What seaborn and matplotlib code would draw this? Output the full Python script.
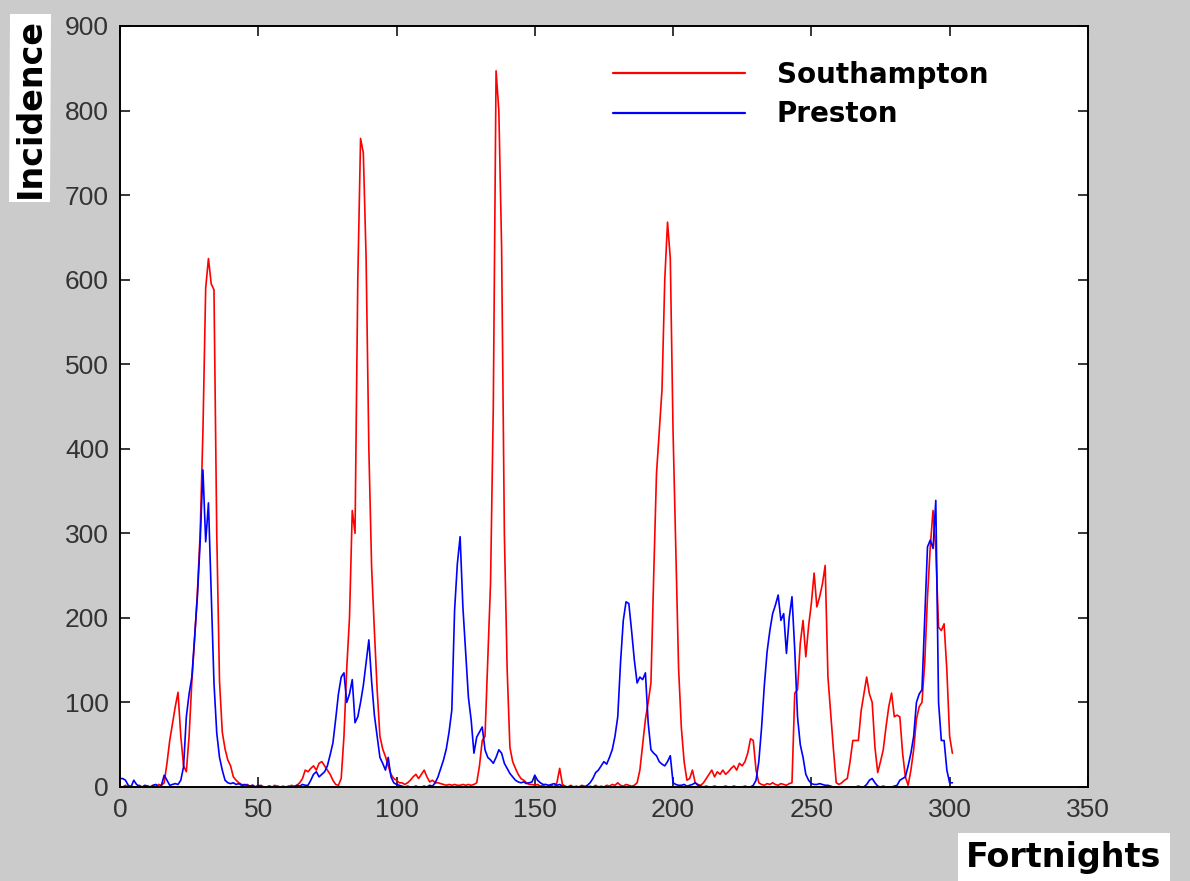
import numpy as np
import pandas as pd
import seaborn as sns
from matplotlib import pyplot as plt

# fortnightly incidence
fortnights = list(range(302))

southampton = [
    0, 0, 2, 0, 1, 0, 0, 2, 0, 0,
    1, 0, 2, 0, 3, 2, 5, 28, 55, 75,
    95, 112, 60, 25, 18, 60, 125, 175, 230, 300,
    420, 590, 625, 595, 588, 300, 125, 65, 45, 32,
    25, 12, 8, 5, 3, 2, 3, 1, 2, 0,
    1, 2, 0, 0, 1, 0, 2, 0, 0, 1,
    0, 0, 2, 1, 2, 5, 10, 20, 18, 22,
    25, 20, 28, 30, 25, 20, 15, 8, 3, 2,
    10, 60, 140, 200, 327, 300, 600, 767, 750, 626,
    400, 260, 185, 115, 60, 45, 36, 25, 15, 10,
    8, 5, 5, 3, 5, 8, 12, 15, 10, 15,
    20, 12, 6, 8, 5, 5, 4, 3, 2, 3,
    2, 3, 2, 2, 3, 2, 3, 2, 3, 5,
    25, 55, 60, 150, 241, 450, 847, 800, 638, 300,
    140, 47, 30, 22, 15, 10, 8, 5, 3, 3,
    2, 3, 1, 2, 0, 1, 2, 0, 5, 22,
    3, 1, 0, 2, 0, 1, 0, 2, 1, 0,
    1, 0, 2, 0, 1, 0, 2, 1, 3, 2,
    5, 2, 1, 3, 2, 1, 2, 5, 20, 50,
    80, 100, 123, 250, 370, 420, 470, 600, 668, 625,
    420, 280, 140, 70, 30, 8, 10, 20, 5, 3,
    2, 5, 10, 15, 20, 12, 18, 15, 20, 15,
    18, 22, 25, 20, 28, 25, 30, 40, 57, 55,
    20, 5, 3, 2, 4, 3, 5, 3, 2, 4,
    3, 2, 4, 5, 111, 115, 170, 197, 154, 190,
    217, 253, 213, 225, 240, 262, 130, 87, 44, 5,
    3, 5, 8, 10, 30, 55, 55, 55, 90, 110,
    130, 110, 100, 47, 17, 30, 44, 71, 95, 111,
    83, 85, 83, 40, 12, 2, 20, 44, 80, 95,
    100, 147, 225, 284, 327, 280, 189, 185, 193, 138,
    60, 40,
]

preston = [
    10, 10, 8, 2, 0, 8, 3, 1, 0, 2,
    1, 0, 2, 3, 0, 2, 14, 8, 2, 3,
    4, 3, 8, 24, 83, 110, 130, 177, 225, 290,
    375, 290, 336, 230, 123, 64, 35, 20, 8, 5,
    4, 5, 3, 4, 2, 3, 2, 1, 2, 0,
    2, 1, 0, 0, 1, 0, 0, 1, 0, 0,
    0, 1, 0, 0, 2, 1, 3, 2, 2, 8,
    15, 18, 12, 15, 18, 25, 38, 52, 80, 110,
    130, 135, 100, 110, 127, 76, 83, 100, 120, 147,
    174, 125, 85, 60, 35, 28, 20, 35, 12, 5,
    3, 2, 1, 0, 1, 0, 0, 1, 0, 0,
    1, 0, 2, 1, 5, 12, 22, 32, 45, 65,
    91, 209, 264, 296, 213, 160, 106, 79, 40, 59,
    65, 71, 44, 35, 32, 28, 35, 44, 40, 28,
    22, 16, 12, 8, 6, 5, 6, 4, 5, 6,
    14, 8, 5, 3, 3, 2, 3, 4, 2, 3,
    1, 0, 0, 1, 0, 0, 0, 1, 0, 2,
    5, 10, 17, 20, 25, 30, 27, 35, 44, 60,
    83, 147, 197, 219, 217, 185, 150, 123, 130, 127,
    135, 76, 44, 40, 37, 30, 27, 25, 30, 37,
    5, 3, 2, 2, 3, 1, 2, 3, 5, 2,
    1, 0, 1, 0, 0, 1, 0, 0, 0, 1,
    0, 0, 1, 0, 0, 0, 1, 0, 0, 2,
    8, 30, 70, 120, 160, 185, 205, 215, 227, 197,
    205, 158, 200, 225, 162, 83, 50, 35, 15, 8,
    4, 3, 3, 4, 3, 2, 2, 1, 0, 0,
    0, 0, 0, 0, 0, 0, 0, 1, 0, 0,
    3, 8, 10, 5, 1, 0, 1, 0, 0, 0,
    1, 2, 8, 10, 12, 25, 40, 60, 100, 110,
    115, 200, 284, 292, 282, 339, 100, 55, 55, 20,
    5, 5,
]

cities = ['Southampton', 'Preston']
colours = {'Southampton': '#ff0000', 'Preston': '#0000ff'}
xticks = [0, 50, 100, 150, 200, 250, 300, 350]
yticks = [0, 100, 200, 300, 400, 500, 600, 700, 800, 900]

n = len(fortnights)
df = pd.DataFrame({
    'Fortnights': fortnights * 2,
    'Incidence': southampton + preston,
    'City': [cities[0]] * n + [cities[1]] * n,
})

sns.set_style('ticks')
plt.rcParams['font.family'] = ['Liberation Sans', 'DejaVu Sans']

fig = plt.figure(figsize=(11.9, 8.81), dpi=100, facecolor='#cbcbcb')
ax = fig.add_axes([0.1008, 0.1067, 0.8134, 0.8638])
ax.set_facecolor('white')

sns.lineplot(data=df, x='Fortnights', y='Incidence', hue='City',
             palette=colours, estimator=None, linewidth=1.2, ax=ax)

ax.set_xlim(0, 350)
ax.set_ylim(0, 900)
ax.set_xticks(xticks)
ax.set_yticks(yticks)
ax.set_xlabel('')
ax.set_ylabel('')
for s in ax.spines.values():
    s.set_visible(True)
    s.set_linewidth(1.4)
    s.set_color('black')
ax.tick_params(direction='in', length=7, width=1.3, top=True, right=True,
               labelsize=19, labelcolor='#333333', pad=8)

handles, labels = ax.get_legend_handles_labels()
leg = ax.legend(handles, labels, loc='upper left',
                bbox_to_anchor=(0.515, 0.931), bbox_transform=fig.transFigure,
                frameon=False, borderpad=0, borderaxespad=0,
                handlelength=4.75, handletextpad=1.15, labelspacing=0.42,
                prop={'family': 'DejaVu Sans', 'weight': 'bold', 'size': 20})
for line in leg.get_lines():
    line.set_linewidth(1.6)
for t in leg.get_texts():
    t.set_color('black')

fig.text(30 / 1190, 1 - 108 / 881, 'Incidence', rotation=90, ha='center', va='center',
         fontsize=24, fontweight='bold', family='DejaVu Sans', color='black',
         bbox=dict(facecolor='white', edgecolor='none', pad=3))
fig.text(1064 / 1190, 1 - 858 / 881, 'Fortnights', ha='center', va='center',
         fontsize=24, fontweight='bold', family='DejaVu Sans', color='black',
         bbox=dict(facecolor='white', edgecolor='none', pad=6))

fig.savefig('out.png', dpi=100, facecolor=fig.get_facecolor())
